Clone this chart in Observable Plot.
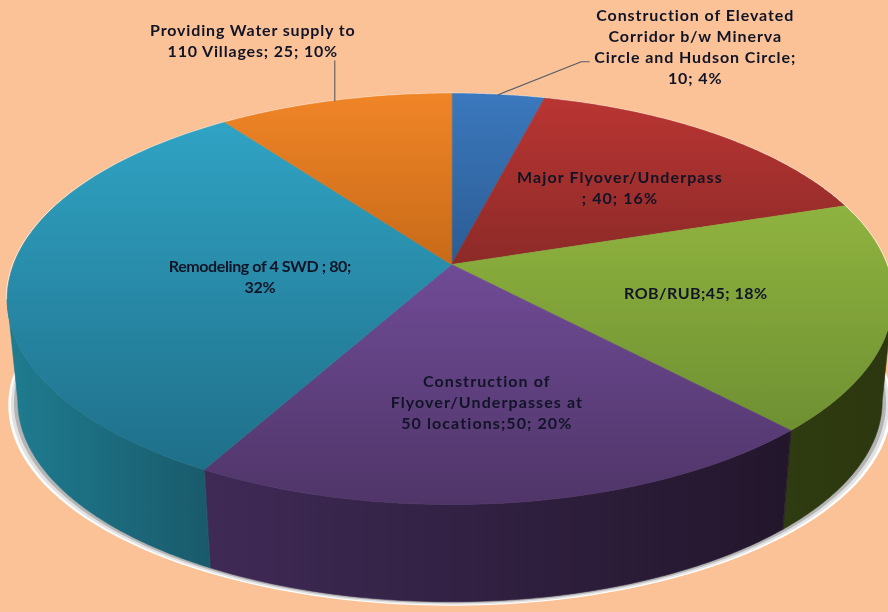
<!DOCTYPE html>
<html>
<head>
<meta charset="utf-8">
<script src="https://cdn.jsdelivr.net/npm/d3@7"></script>
<script src="https://cdn.jsdelivr.net/npm/@observablehq/plot@0.6"></script>
<style>
html,body{margin:0;padding:0;background:#fac296;}
svg{display:block;background:#fac296;}
</style>
</head>
<body>
<div id="chart"></div>
<script>
// Data
const categories = [
  "Construction of Elevated Corridor b/w Minerva Circle and Hudson Circle",
  "Major Flyover/Underpass",
  "ROB/RUB",
  "Construction of Flyover/Underpasses at 50 locations",
  "Remodeling of 4 SWD",
  "Providing Water supply to 110 Villages"
];
const values = [10, 40, 45, 50, 80, 25];
const labels = [
  "Construction of Elevated\nCorridor b/w Minerva\nCircle and Hudson Circle;\n10; 4%",
  "Major Flyover/Underpass\n; 40; 16%",
  "ROB/RUB;45; 18%",
  "Construction of\nFlyover/Underpasses at\n50 locations;50; 20%",
  "Remodeling of 4 SWD ; 80;\n32%",
  "Providing Water supply to\n110 Villages; 25; 10%"
];

// Styles and layout
const topColors = [
  ["#3b78bd","#2b5c93"], ["#b93532","#8c2a28"], ["#8fb33f","#6f9032"],
  ["#704b96","#4f3568"], ["#30a3c4","#1f6f89"], ["#f08527","#c86a18"]
];
const sideColors = [
  ["#26486f","#26486f"], ["#6e1f1d","#6e1f1d"], ["#2f3b10","#2c370f"],
  ["#3f2a56","#22162b"], ["#1f7c90","#195a6b"], ["#a0561a","#a0561a"]
];
const labelRadius = [1, .6, .6, .6, .45, 1];
const labelDx = [197, 2, -15, -1, 6, -82];
const labelDy = [-49, 4, -3, 5, 6, -61];
const labelSpacing = [0.92, 1.08, 0.47, 1.09, -0.4, 0.84];
const leaderBends = {0: [[0,0],[83,-33],[91,-33]], 5: [[0,0],[0,-40]]};

// Perspective view of the pie's disc
const cx = 451, cy = 264, rxLeft = 438, rxRight = 435, ry = 199.7, tilt = 0.168, depth = 103, shrink = 0.976;
const project = (deg, r = 1, low = false) => {
  const t = deg * Math.PI / 180, u = r * Math.sin(t), v = -r * Math.cos(t), d = 1 - tilt * v;
  const X = (u < 0 ? rxLeft : rxRight) * u / d, Y = ry * v / d;
  return low ? {x: cx + X * shrink, y: cy + depth + Y * shrink} : {x: cx + X, y: cy + Y};
};
const arc = (a0, a1, low) => d3.range(0, 91).map(i => project(a0 + (a1 - a0) * i / 90, 1, low));

const total = d3.sum(values);
let acc = 0;
const slices = values.map((v, i) => {
  const a0 = acc / total * 360; acc += v;
  const a1 = acc / total * 360;
  return {i, a0, a1, mid: (a0 + a1) / 2, name: categories[i], label: labels[i]};
});
// The wall shows only on the near half of the rim, between the two silhouette angles.
const frontFrom = Math.acos(-tilt) * 180 / Math.PI, frontTo = 360 - frontFrom;
const topPoly = s => [project(0, 0), ...arc(s.a0, s.a1, false)];
const frontSlices = slices.filter(s => Math.min(s.a1, frontTo) > Math.max(s.a0, frontFrom));
const sidePoly = s => {
  const a = Math.max(s.a0, frontFrom), b = Math.min(s.a1, frontTo);
  return [...arc(a, b, false), ...arc(b, a, true)];
};
const under = (k, dy) => d3.range(0, 361, 2).map(a => {
  const p = project(a, 1, true);
  return {x: cx + (p.x - cx) * k, y: p.y + dy};
});
const rim = d3.range(0, 121).map(i => project(-100 + 200 * i / 120, 1.002));

const grad = (id, stops, vertical) => `<linearGradient id="${id}" x1="0" y1="0" x2="${vertical ? 0 : 1}" y2="${vertical ? 1 : 0}"><stop offset="0" stop-color="${stops[0]}"/><stop offset="1" stop-color="${stops[1]}"/></linearGradient>`;
const defs = () => {
  const g = document.createElementNS("http://www.w3.org/2000/svg", "defs");
  g.innerHTML = slices.map(s => grad("top" + s.i, topColors[s.i], true) + grad("side" + s.i, sideColors[s.i], false)).join("");
  return g;
};
const poly = (pts, id) => Plot.line(pts, {x: "x", y: "y", fill: `url(#${id})`, stroke: `url(#${id})`, strokeWidth: 0.6, curve: "linear-closed"});
const flat = (pts, color) => Plot.line(pts, {x: "x", y: "y", fill: color, curve: "linear-closed"});

const font = "Lato, 'Open Sans', sans-serif";
const labelData = slices.map(s => {
  const p = project(s.mid, labelRadius[s.i]);
  return {x: p.x + labelDx[s.i], y: p.y + labelDy[s.i], text: s.label};
});
const leaders = Object.entries(leaderBends).flatMap(([k, pts]) => {
  const p = project(slices[k].mid);
  return pts.map(([a, b]) => ({k, x: p.x + a, y: p.y + b}));
});

const chart = Plot.plot({
  width: 888, height: 612, margin: 0,
  x: {domain: [0, 888], range: [0, 888], axis: null},
  y: {domain: [0, 612], range: [0, 612], axis: null},
  marks: [
    defs,
    flat(under(1.022, 4), "#ffffff"),
    flat(under(1.016, 3), "#e2e2e2"),
    flat(under(1.009, 1.5), "#b4b4b4"),
    Plot.line(rim, {x: "x", y: "y", stroke: "#fff6ec", strokeWidth: 1, strokeOpacity: 0.85}),
    ...frontSlices.map(s => poly(sidePoly(s), "side" + s.i)),
    ...slices.map(s => poly(topPoly(s), "top" + s.i)),
    Plot.line(leaders, {x: "x", y: "y", z: "k", stroke: "#555b66", strokeWidth: 1.1}),
    Plot.text(labelData, {
      x: "x", y: "y", text: "text", lineAnchor: "middle", textAnchor: "middle",
      fontFamily: font, fontWeight: 700, fontSize: 16, lineHeight: 1.3, fill: "#101426"
    })
  ]
});
chart.style.background = "#fac296";
chart.style.filter = "blur(0.35px)";
chart.querySelectorAll('g[aria-label="text"] text').forEach((t, i) => {
  t.style.letterSpacing = labelSpacing[i] + "px";
});
document.getElementById("chart").appendChild(chart);
</script>
</body>
</html>
